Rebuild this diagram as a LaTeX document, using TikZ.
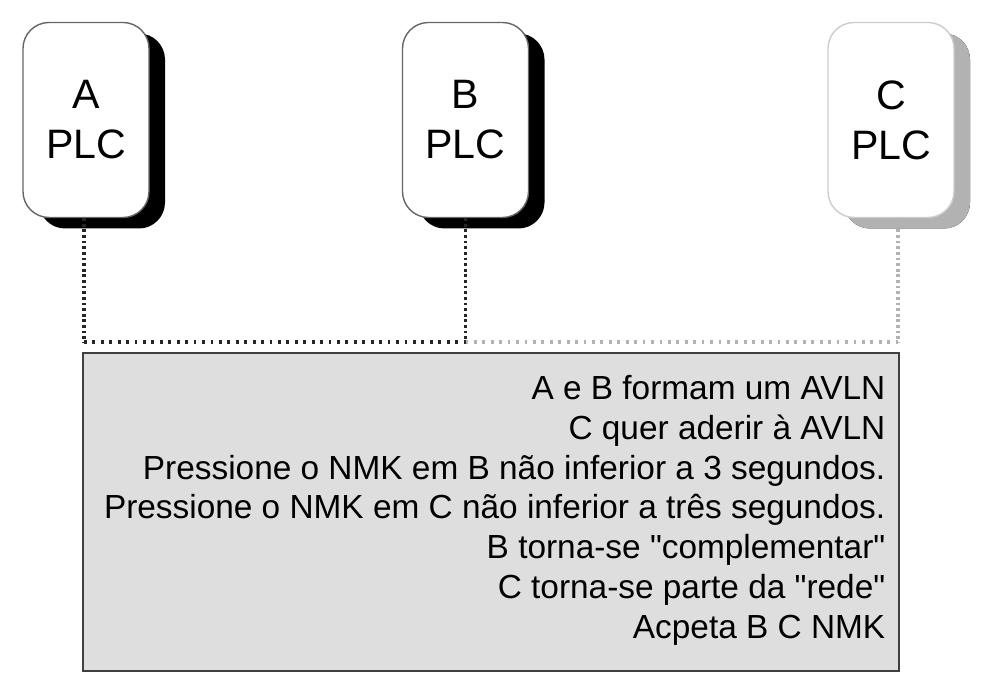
\documentclass[tikz,border=0pt]{standalone}
\usepackage{fontspec}
\setmainfont{Liberation Sans}
\usetikzlibrary{calc}
\usetikzlibrary{shadows}

\tikzset{
    plcbox/.style={draw=black!60, fill=white, rounded corners=0.26cm, align=center,
        minimum width=1.26cm, minimum height=1.95cm, inner sep=0pt,
        font=\fontsize{11.7}{14.2}\selectfont,
        drop shadow={shadow xshift=0.16cm, shadow yshift=-0.11cm, fill=black, opacity=1}},
    link/.style={line width=0.9pt, dash pattern=on 0.8pt off 0.8pt},
    buslink/.style={line width=0.9pt, dash pattern=on 0.8pt off 1.6pt},
}

\begin{document}
\begin{tikzpicture}
        \useasboundingbox (0,0) rectangle (9.84,6.76);

        \node[plcbox](plca) at (0.86,5.56) {A\\PLC};
        \node[plcbox](plcb) at (4.655,5.56) {B\\PLC};
        \node[plcbox, draw=black!20, drop shadow={shadow xshift=0.16cm, shadow yshift=-0.11cm, fill=black!30, opacity=1}](plcc) at (8.91,5.56) {C\\PLC};

        \coordinate (bus) at (0,3.34);
        \coordinate (tapc) at ($(plcc.south)+(0.07,0)$);

        \node[draw=black!75, line width=0.6pt, fill=black!13, minimum width=8.16cm, minimum height=3.18cm](infobox) at (4.91,1.64) {};
        \node[anchor=north east, inner sep=0pt, align=right, font=\fontsize{9.5}{11.3}\selectfont](steps) at (8.86,3.01)
            {A e B formam um AVLN\\C quer aderir à AVLN\\Pressione o NMK em B não inferior a 3 segundos.\\Pressione o NMK em C não inferior a três segundos.\\B torna-se \textquotedbl complementar\textquotedbl\\C torna-se parte da \textquotedbl rede\textquotedbl\\Acpeta B C NMK};

        \draw[link, black!85] ($(plca.south)+(-0.02,0)$) -- ($(plca.south |- bus)+(-0.02,0)$);
        \draw[link, black!85] (plcb.south) -- (plcb.south |- bus);
        \draw[link, black!30] (tapc) -- (tapc |- bus);
        \draw[buslink, black!85] ($(plca.south |- bus)+(-0.02,0)$) -- (plcb.south |- bus);
        \draw[buslink, black!30] (plcb.south |- bus) -- (tapc |- bus);
    \end{tikzpicture}
\end{document}
